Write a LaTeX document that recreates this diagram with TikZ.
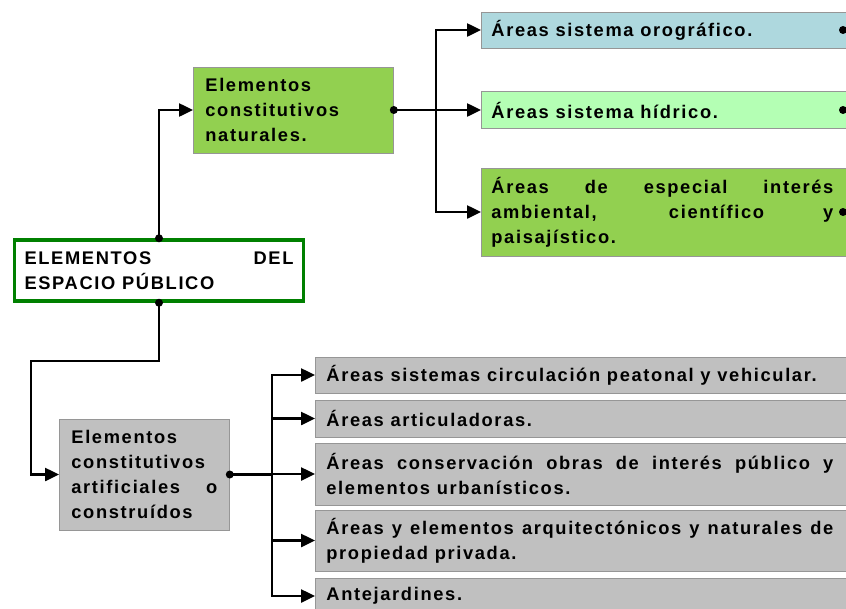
\documentclass[tikz,border=0pt]{standalone}
\usepackage{fontspec}
\setmainfont{Liberation Sans}[LetterSpace=9]
\usetikzlibrary{arrows.meta,calc}
\definecolor{lblue}{RGB}{174,216,222}
\definecolor{lmint}{RGB}{180,255,180}
\definecolor{lgreen}{RGB}{146,208,80}
\definecolor{lgrey}{RGB}{192,192,192}
\definecolor{bgrey}{RGB}{150,150,150}
\definecolor{dgreen}{RGB}{0,128,0}
\hyphenpenalty=10000
\exhyphenpenalty=10000
\begin{document}
\begin{tikzpicture}[x=1pt,y=-1pt,
  every node/.style={font=\bfseries\fontsize{18.3}{25}\selectfont},
  box/.style={draw=bgrey,line width=0.8pt,anchor=west,inner ysep=0pt},
  wbox/.style={box,align=justify},
  conn/.style={line width=2.5pt,draw=black},
  arr/.style={conn,-{Triangle[length=14pt,width=13pt]}},
  dot/.style={fill=black}]
\useasboundingbox (0,0) rectangle (846,608);
\clip (0,0) rectangle (846,608);
% main
\node[draw=dgreen,line width=3.5pt,fill=white,text width=269pt,align=justify,
      inner xsep=10pt,minimum height=61pt,anchor=center] (main) at (159,270.5)
  {ELEMENTOS DEL\linebreak ESPACIO PÚBLICO};
% naturales
\node[box,fill=lgreen,text width=176pt,inner xsep=12pt,align=left,minimum height=86pt] (nat) at (193,110)
  {Elementos\\constitutivos\\naturales.};
% artificiales
\node[box,fill=lgrey,text width=146pt,inner xsep=12pt,align=justify,minimum height=111pt] (art) at (59,474.5)
  {Elementos\\ constitutivos\\ artificiales o\linebreak construídos};
% top boxes
\node[wbox,fill=lblue,minimum height=36pt,text width=420pt,inner xsep=10pt] (t1) at (481,30)
  {\parbox{342pt}{Áreas sistema orográfico.}};
\node[wbox,fill=lmint,minimum height=37pt,text width=420pt,inner xsep=10pt] (t2) at (481,110)
  {\parbox{342pt}{Áreas sistema hídrico.}};
\node[wbox,fill=lgreen,minimum height=88pt,text width=420pt,inner xsep=10pt] (t3) at (481,212)
  {\parbox{342pt}{Áreas de especial interés\linebreak ambiental, científico y\linebreak paisajístico.}};
% bottom boxes
\node[wbox,fill=lgrey,minimum height=36pt,text width=580pt,inner xsep=11pt] (b1) at (315,375)
  {\parbox{507pt}{Áreas sistemas circulación peatonal y vehicular.}};
\node[wbox,fill=lgrey,minimum height=37pt,text width=580pt,inner xsep=11pt] (b2) at (315,418.5)
  {\parbox{507pt}{Áreas articuladoras.}};
\node[wbox,fill=lgrey,minimum height=62pt,text width=580pt,inner xsep=11pt] (b3) at (315,474)
  {\parbox{507pt}{Áreas conservación obras de interés público y\linebreak elementos urbanísticos.}};
\node[wbox,fill=lgrey,minimum height=61pt,text width=580pt,inner xsep=11pt] (b4) at (315,540.5)
  {\parbox{507pt}{Áreas y elementos arquitectónicos y naturales de\linebreak propiedad privada.}};
\node[wbox,fill=lgrey,minimum height=36pt,text width=580pt,inner xsep=11pt] (b5) at (315,596)
  {\parbox{507pt}{Antejardines.}};
% connectors
\coordinate (busT) at (436,110);
\coordinate (busB) at (272,474.5);
\draw[arr] (main.north) |- (nat.west);
\draw[arr] (main.south) -- ($(main.south)+(0,58)$) -| ($(art.west)+(-28,0)$) -- (art.west);
\draw[conn] (nat.east) -- (busT);
\draw[arr] (busT) |- (t1.west);
\draw[arr] (busT) -- (t2.west);
\draw[arr] (busT) |- (t3.west);
\draw[conn] (art.east) -- (busB);
\draw[arr] (busB) |- (b1.west);
\draw[arr] (busB) |- (b2.west);
\draw[arr] (busB) |- (b3.west);
\draw[arr] (busB) |- (b4.west);
\draw[arr] (busB) |- (b5.west);
\coordinate (e1) at (843,30);
\coordinate (e2) at (843,110);
\coordinate (e3) at (843,212);
\foreach \p in {e1,e2,e3} { \draw[conn] (\p) -- ++(10,0); }
\foreach \p in {main.north,main.south,nat.east,art.east,e1,e2,e3}
  { \fill[dot] (\p) circle (4pt); }
\end{tikzpicture}
\end{document}
